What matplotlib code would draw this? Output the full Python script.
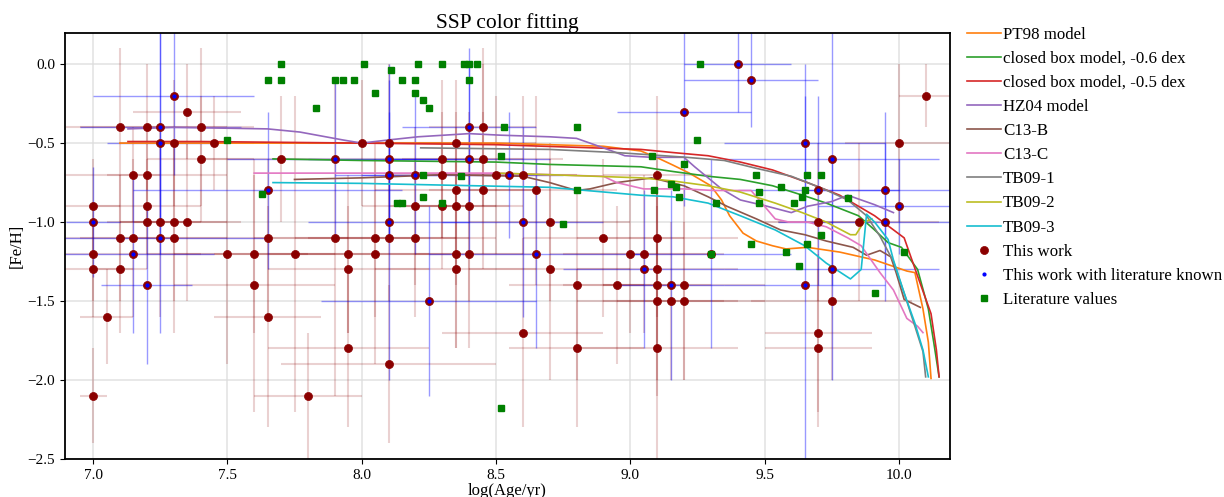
import numpy as np
import matplotlib
matplotlib.use("Agg")
import matplotlib.pyplot as plt

plt.rcParams['font.family'] = ['Liberation Serif', 'DejaVu Serif']

# ---------------- data ----------------
work_age = [7.0, 7.0, 7.0, 7.0, 7.0, 7.05, 7.1, 7.1, 7.1, 7.15, 7.15, 7.15, 7.2, 7.2, 7.2, 7.2, 7.2,
            7.25, 7.25, 7.25, 7.25, 7.3, 7.3, 7.3, 7.3, 7.35, 7.35, 7.4, 7.4, 7.45, 7.5, 7.6, 7.6,
            7.65, 7.65, 7.65, 7.7, 7.75, 7.8, 7.9, 7.9, 7.95, 7.95, 7.95, 8.0, 8.05, 8.05, 8.1, 8.1,
            8.1, 8.1, 8.1, 8.1, 8.2, 8.2, 8.2, 8.25, 8.3, 8.3, 8.3, 8.35, 8.35, 8.35, 8.35, 8.35,
            8.4, 8.4, 8.4, 8.4, 8.45, 8.45, 8.45, 8.5, 8.55, 8.6, 8.6, 8.6, 8.65, 8.65, 8.7, 8.7,
            8.8, 8.8, 8.9, 8.95, 9.0, 9.05, 9.05, 9.1, 9.1, 9.1, 9.1, 9.1, 9.1, 9.15, 9.15, 9.2,
            9.2, 9.2, 9.3, 9.4, 9.45, 9.65, 9.65, 9.7, 9.7, 9.7, 9.7, 9.75, 9.75, 9.75, 9.85, 9.95,
            9.95, 10.0, 10.0, 10.1]
work_feh = [-0.9, -1.0, -1.2, -1.3, -2.1, -1.6, -0.4, -1.1, -1.3, -0.7, -1.1, -1.2, -0.4, -0.7, -0.9, -1.0, -1.4,
            -0.4, -0.5, -1.0, -1.1, -0.2, -0.5, -1.0, -1.1, -0.3, -1.0, -0.4, -0.6, -0.5, -1.2, -1.2, -1.4,
            -0.8, -1.1, -1.6, -0.6, -1.2, -2.1, -0.6, -1.1, -1.2, -1.3, -1.8, -0.5, -1.1, -1.2, -0.5, -0.6,
            -0.7, -1.0, -1.1, -1.9, -0.7, -0.9, -1.1, -1.5, -0.6, -0.7, -0.9, -0.5, -0.8, -0.9, -1.2, -1.3,
            -0.4, -0.6, -0.9, -1.2, -0.4, -0.6, -0.8, -0.7, -0.7, -0.7, -1.0, -1.7, -0.8, -1.2, -1.0, -1.3,
            -1.4, -1.8, -1.1, -1.4, -1.2, -1.2, -1.3, -0.7, -1.1, -1.3, -1.4, -1.5, -1.8, -1.4, -1.5, -0.3,
            -1.4, -1.5, -1.2, 0.0, -0.1, -0.5, -1.4, -0.8, -1.0, -1.7, -1.8, -0.6, -1.3, -1.5, -1.0, -0.8,
            -1.0, -0.5, -0.9, -0.2]
work_age_err = [0.1, 0.1, 0.4, 0.15, 0.05, 0.1, 0.15, 0.2, 0.1, 0.1, 0.2, 0.3, 0.3, 0.3, 0.2, 0.15, 0.17,
                0.3, 0.2, 0.15, 0.4, 0.3, 0.2, 0.2, 0.2, 0.2, 0.2, 0.2, 0.2, 0.15, 0.3, 0.3, 0.3,
                0.5, 0.3, 0.2, 0.3, 0.3, 0.2, 0.4, 0.3, 0.3, 0.3, 0.3, 0.3, 0.3, 0.3, 0.3, 0.3,
                0.2, 0.3, 0.3, 0.4, 0.2, 0.2, 0.3, 0.4, 0.3, 0.2, 0.2, 0.3, 0.3, 0.2, 0.3, 0.3,
                0.25, 0.3, 0.2, 0.2, 0.2, 0.3, 0.2, 0.3, 0.2, 0.2, 0.3, 0.3, 0.3, 0.4, 0.3, 0.3,
                0.25, 0.25, 0.3, 0.2, 0.3, 0.3, 0.3, 0.2, 0.3, 0.3, 0.2, 0.3, 0.3, 0.2, 0.2, 0.25,
                0.3, 0.3, 0.3, 0.2, 0.25, 0.3, 0.3, 0.3, 0.2, 0.2, 0.2, 0.4, 0.4, 0.3, 0.3, 0.3,
                0.4, 0.2, 0.3, 0.1]
work_feh_err = [0.3, 0.35, 0.3, 0.3, 0.3, 0.3, 0.5, 0.4, 0.4, 0.3, 0.5, 0.5, 0.4, 0.3, 0.3, 0.3, 0.5,
                0.6, 0.7, 0.6, 0.6, 0.5, 0.4, 0.5, 0.6, 0.3, 0.5, 0.5, 0.4, 0.3, 0.7, 0.5, 0.8,
                0.5, 0.5, 0.7, 0.4, 1.0, 0.4, 0.5, 1.0, 0.5, 0.4, 0.5, 0.4, 0.5, 0.7, 0.5, 0.5,
                0.4, 1.0, 0.4, 0.5, 0.5, 0.5, 0.5, 0.6, 0.5, 0.4, 0.4, 0.4, 0.5, 0.5, 0.6, 0.5,
                0.5, 0.6, 0.6, 0.6, 0.5, 0.6, 0.5, 0.5, 0.4, 0.5, 0.6, 0.6, 0.6, 0.6, 0.5, 0.7,
                0.6, 0.5, 0.5, 0.5, 0.5, 0.5, 0.5, 0.5, 0.5, 0.5, 0.6, 0.6, 0.7, 0.6, 0.5, 0.6,
                0.6, 0.5, 0.6, 0.3, 0.3, 0.5, 1.2, 0.6, 0.5, 0.5, 0.5, 0.8, 0.7, 0.5, 0.5, 0.5,
                0.5, 0.5, 0.3, 0.2]
work_known = [0, 1, 0, 0, 0, 0, 0, 0, 0, 0, 0, 1, 0, 0, 0, 0, 1,
              1, 1, 0, 1, 1, 0, 0, 0, 0, 0, 0, 0, 0, 0, 0, 0,
              1, 0, 0, 0, 0, 0, 1, 0, 0, 0, 0, 0, 0, 0, 0, 1,
              1, 1, 0, 0, 1, 0, 0, 1, 0, 0, 0, 0, 0, 0, 0, 0,
              1, 1, 0, 0, 0, 0, 0, 0, 1, 0, 1, 0, 0, 1, 0, 0,
              0, 0, 0, 0, 0, 0, 1, 0, 0, 0, 0, 0, 0, 1, 0, 1,
              0, 0, 1, 1, 1, 1, 1, 1, 0, 0, 0, 1, 1, 0, 0, 1,
              1, 0, 1, 0]

lit_age = [7.50, 7.63, 7.65, 7.70, 7.70, 7.83, 7.90, 7.93, 7.97, 8.01, 8.05, 8.11, 8.13, 8.15, 8.15,
           8.20, 8.20, 8.21, 8.23, 8.25, 8.23, 8.23, 8.30, 8.30, 8.37, 8.38, 8.40, 8.40, 8.43, 8.52,
           8.53, 8.52, 8.75, 8.80, 8.80, 9.08, 9.09, 9.15, 9.17, 9.18, 9.20, 9.25, 9.26, 9.30, 9.32,
           9.45, 9.47, 9.48, 9.48, 9.56, 9.58, 9.61, 9.63, 9.64, 9.65, 9.66, 9.66, 9.71, 9.71, 9.81,
           9.91, 10.02]
lit_feh = [-0.48, -0.82, -0.10, 0.0, -0.10, -0.28, -0.10, -0.10, -0.10, 0.0, -0.18, -0.04, -0.88, -0.88, -0.10,
           -0.10, -0.18, 0.0, -0.23, -0.28, -0.70, -0.84, 0.0, -0.88, -0.71, 0.0, 0.0, -0.10, 0.0, -0.58,
           -0.40, -2.18, -1.01, -0.40, -0.80, -0.58, -0.80, -0.76, -0.78, -0.84, -0.63, -0.48, 0.0, -1.20, -0.88,
           -1.14, -0.70, -0.81, -0.88, -0.78, -1.19, -0.88, -1.28, -0.84, -0.80, -0.70, -1.14, -0.70, -1.08, -0.85,
           -1.45, -1.19]

pt98_age = [7.10, 7.50, 8.00, 8.50, 8.90, 9.04, 9.11, 9.16, 9.22, 9.30, 9.34, 9.37, 9.42, 9.47, 9.53, 9.58,
            9.66, 9.78, 9.91, 10.03, 10.06, 10.09, 10.11, 10.12]
pt98_feh = [-0.50, -0.50, -0.50, -0.50, -0.52, -0.55, -0.60, -0.64, -0.69, -0.77, -0.86, -0.96, -1.07, -1.12, -1.15, -1.17,
            -1.16, -1.19, -1.24, -1.31, -1.32, -1.55, -1.76, -1.99]
cb06_age = [7.67, 8.00, 8.50, 8.70, 9.04, 9.16, 9.29, 9.41, 9.53, 9.66, 9.73, 9.85, 9.91, 9.96, 10.01, 10.07,
            10.11, 10.13, 10.15]
cb06_feh = [-0.60, -0.61, -0.62, -0.635, -0.65, -0.68, -0.71, -0.73, -0.77, -0.84, -0.88, -0.96, -1.05, -1.13, -1.16, -1.30,
            -1.55, -1.76, -1.98]
cb05_age = [7.13, 7.40, 8.00, 8.50, 9.04, 9.16, 9.29, 9.41, 9.53, 9.66, 9.78, 9.91, 10.02, 10.08, 10.12, 10.14, 10.15]
cb05_feh = [-0.49, -0.49, -0.50, -0.51, -0.54, -0.56, -0.58, -0.62, -0.67, -0.75, -0.83, -0.96, -1.10, -1.39, -1.58, -1.81, -1.98]
hz04_age = [7.13, 7.30, 7.65, 7.77, 7.93, 8.00, 8.10, 8.21, 8.40, 8.52, 8.70, 8.80, 8.90, 8.98, 9.08, 9.20,
            9.24, 9.29, 9.34, 9.41, 9.51, 9.60, 9.66, 9.75, 9.81, 9.91, 9.98]
hz04_feh = [-0.41, -0.40, -0.41, -0.43, -0.48, -0.50, -0.48, -0.46, -0.44, -0.45, -0.46, -0.47, -0.53, -0.58, -0.59, -0.59,
            -0.65, -0.72, -0.79, -0.86, -0.90, -0.94, -0.90, -0.87, -0.83, -0.89, -0.94]
c13b_age = [7.75, 8.00, 8.30, 8.60, 8.70, 8.80, 8.85, 8.95, 9.08, 9.20, 9.29, 9.36, 9.47, 9.56, 9.65, 9.73,
            9.83, 9.88, 9.93, 9.97, 9.99, 10.02, 10.08]
c13b_feh = [-0.73, -0.72, -0.70, -0.71, -0.75, -0.80, -0.79, -0.75, -0.72, -0.77, -0.84, -0.90, -0.98, -1.05, -1.08, -1.12,
            -1.16, -1.21, -1.18, -1.22, -1.32, -1.49, -1.54]
c13c_age = [7.60, 8.00, 8.50, 8.70, 8.90, 8.95, 9.05, 9.20, 9.31, 9.45, 9.49, 9.54, 9.59, 9.66, 9.73, 9.81,
            9.86, 9.93, 9.98, 10.03, 10.07, 10.09]
c13c_feh = [-0.69, -0.69, -0.69, -0.70, -0.71, -0.75, -0.79, -0.79, -0.80, -0.80, -0.88, -0.98, -1.00, -1.00, -1.03, -1.10,
            -1.15, -1.32, -1.43, -1.61, -1.66, -1.70]
tb1_age = [8.22, 8.70, 8.95, 9.04, 9.21, 9.35, 9.47, 9.60, 9.72, 9.81, 9.88, 9.93, 9.98, 10.02, 10.06, 10.09, 10.10]
tb1_feh = [-0.53, -0.54, -0.56, -0.57, -0.59, -0.61, -0.66, -0.71, -0.79, -0.86, -0.96, -1.09, -1.25, -1.45, -1.66, -1.82, -1.98]
tb2_age = [8.50, 8.70, 9.04, 9.16, 9.29, 9.41, 9.54, 9.64, 9.73, 9.82, 9.84, 9.87, 9.90]
tb2_feh = [-0.69, -0.70, -0.72, -0.74, -0.77, -0.81, -0.88, -0.94, -1.00, -1.08, -1.08, -1.00, -0.98]
tb3_age = [7.67, 8.00, 8.70, 9.04, 9.16, 9.29, 9.41, 9.54, 9.65, 9.73, 9.82, 9.86, 9.88, 9.91, 9.96, 9.98,
           10.02, 10.06, 10.09, 10.11]
tb3_feh = [-0.75, -0.755, -0.78, -0.83, -0.84, -0.88, -0.96, -1.05, -1.15, -1.26, -1.36, -1.30, -0.95, -1.00, -1.11, -1.24,
           -1.45, -1.64, -1.81, -1.98]

# ---------------- plot ----------------
fig = plt.figure(figsize=(12.24, 4.97), dpi=100)
ax = fig.add_axes([0.053, 0.0765, 0.723, 0.858])

models = [
    (pt98_age, pt98_feh, 'C1', 'PT98 model'),
    (cb06_age, cb06_feh, 'C2', 'closed box model, -0.6 dex'),
    (cb05_age, cb05_feh, 'C3', 'closed box model, -0.5 dex'),
    (hz04_age, hz04_feh, 'C4', 'HZ04 model'),
    (c13b_age, c13b_feh, 'C5', 'C13-B'),
    (c13c_age, c13c_feh, 'C6', 'C13-C'),
    (tb1_age, tb1_feh, 'C7', 'TB09-1'),
    (tb2_age, tb2_feh, 'C8', 'TB09-2'),
    (tb3_age, tb3_feh, 'C9', 'TB09-3'),
]
for xa, ya, c, lab in models:
    ax.plot(xa, ya, color=c, lw=1.2, label=lab, zorder=3)

wa = np.array(work_age)
wf = np.array(work_feh)
wae = np.array(work_age_err)
wfe = np.array(work_feh_err)
kn = np.array(work_known, dtype=bool)

ax.errorbar(wa[~kn], wf[~kn], xerr=wae[~kn], yerr=wfe[~kn], fmt='none',
            ecolor='darkred', alpha=0.18, elinewidth=1.5, zorder=2)
ax.errorbar(wa[kn], wf[kn], xerr=wae[kn], yerr=wfe[kn], fmt='none',
            ecolor='blue', alpha=0.4, elinewidth=1.0, zorder=2)

ax.plot(wa, wf, 'o', color='darkred', markersize=5.8, markeredgewidth=0.5,
        markeredgecolor='darkred', label='This work', zorder=4)
ax.plot(wa[kn], wf[kn], '.', color='blue', markersize=4, label='This work with literature known', zorder=5)
ax.plot(lit_age, lit_feh, 's', color='green', markersize=4.2, label='Literature values', zorder=6)

ax.set_xlim(6.895, 10.19)
ax.set_ylim(-2.5, 0.2)
ax.set_xticks([7.0, 7.5, 8.0, 8.5, 9.0, 9.5, 10.0])
ax.set_yticks([0.0, -0.5, -1.0, -1.5, -2.0, -2.5])
ax.grid(True, color='#dddddd', lw=1.2, alpha=0.8)
ax.set_axisbelow(True)
for s in ax.spines.values():
    s.set_linewidth(1.3)
ax.tick_params(labelsize=11)
ax.set_title('SSP color fitting', fontsize=15.5, pad=3)
ax.set_xlabel('log(Age/yr)', fontsize=12, labelpad=1)
ax.set_ylabel('[Fe/H]', fontsize=12, labelpad=2)

ax.legend(loc='upper left', bbox_to_anchor=(1.012, 1.03), frameon=False, fontsize=12.2,
          handlelength=2.0, handletextpad=0.1, labelspacing=0.48, borderaxespad=0)

fig.savefig('out.png', dpi=100)
